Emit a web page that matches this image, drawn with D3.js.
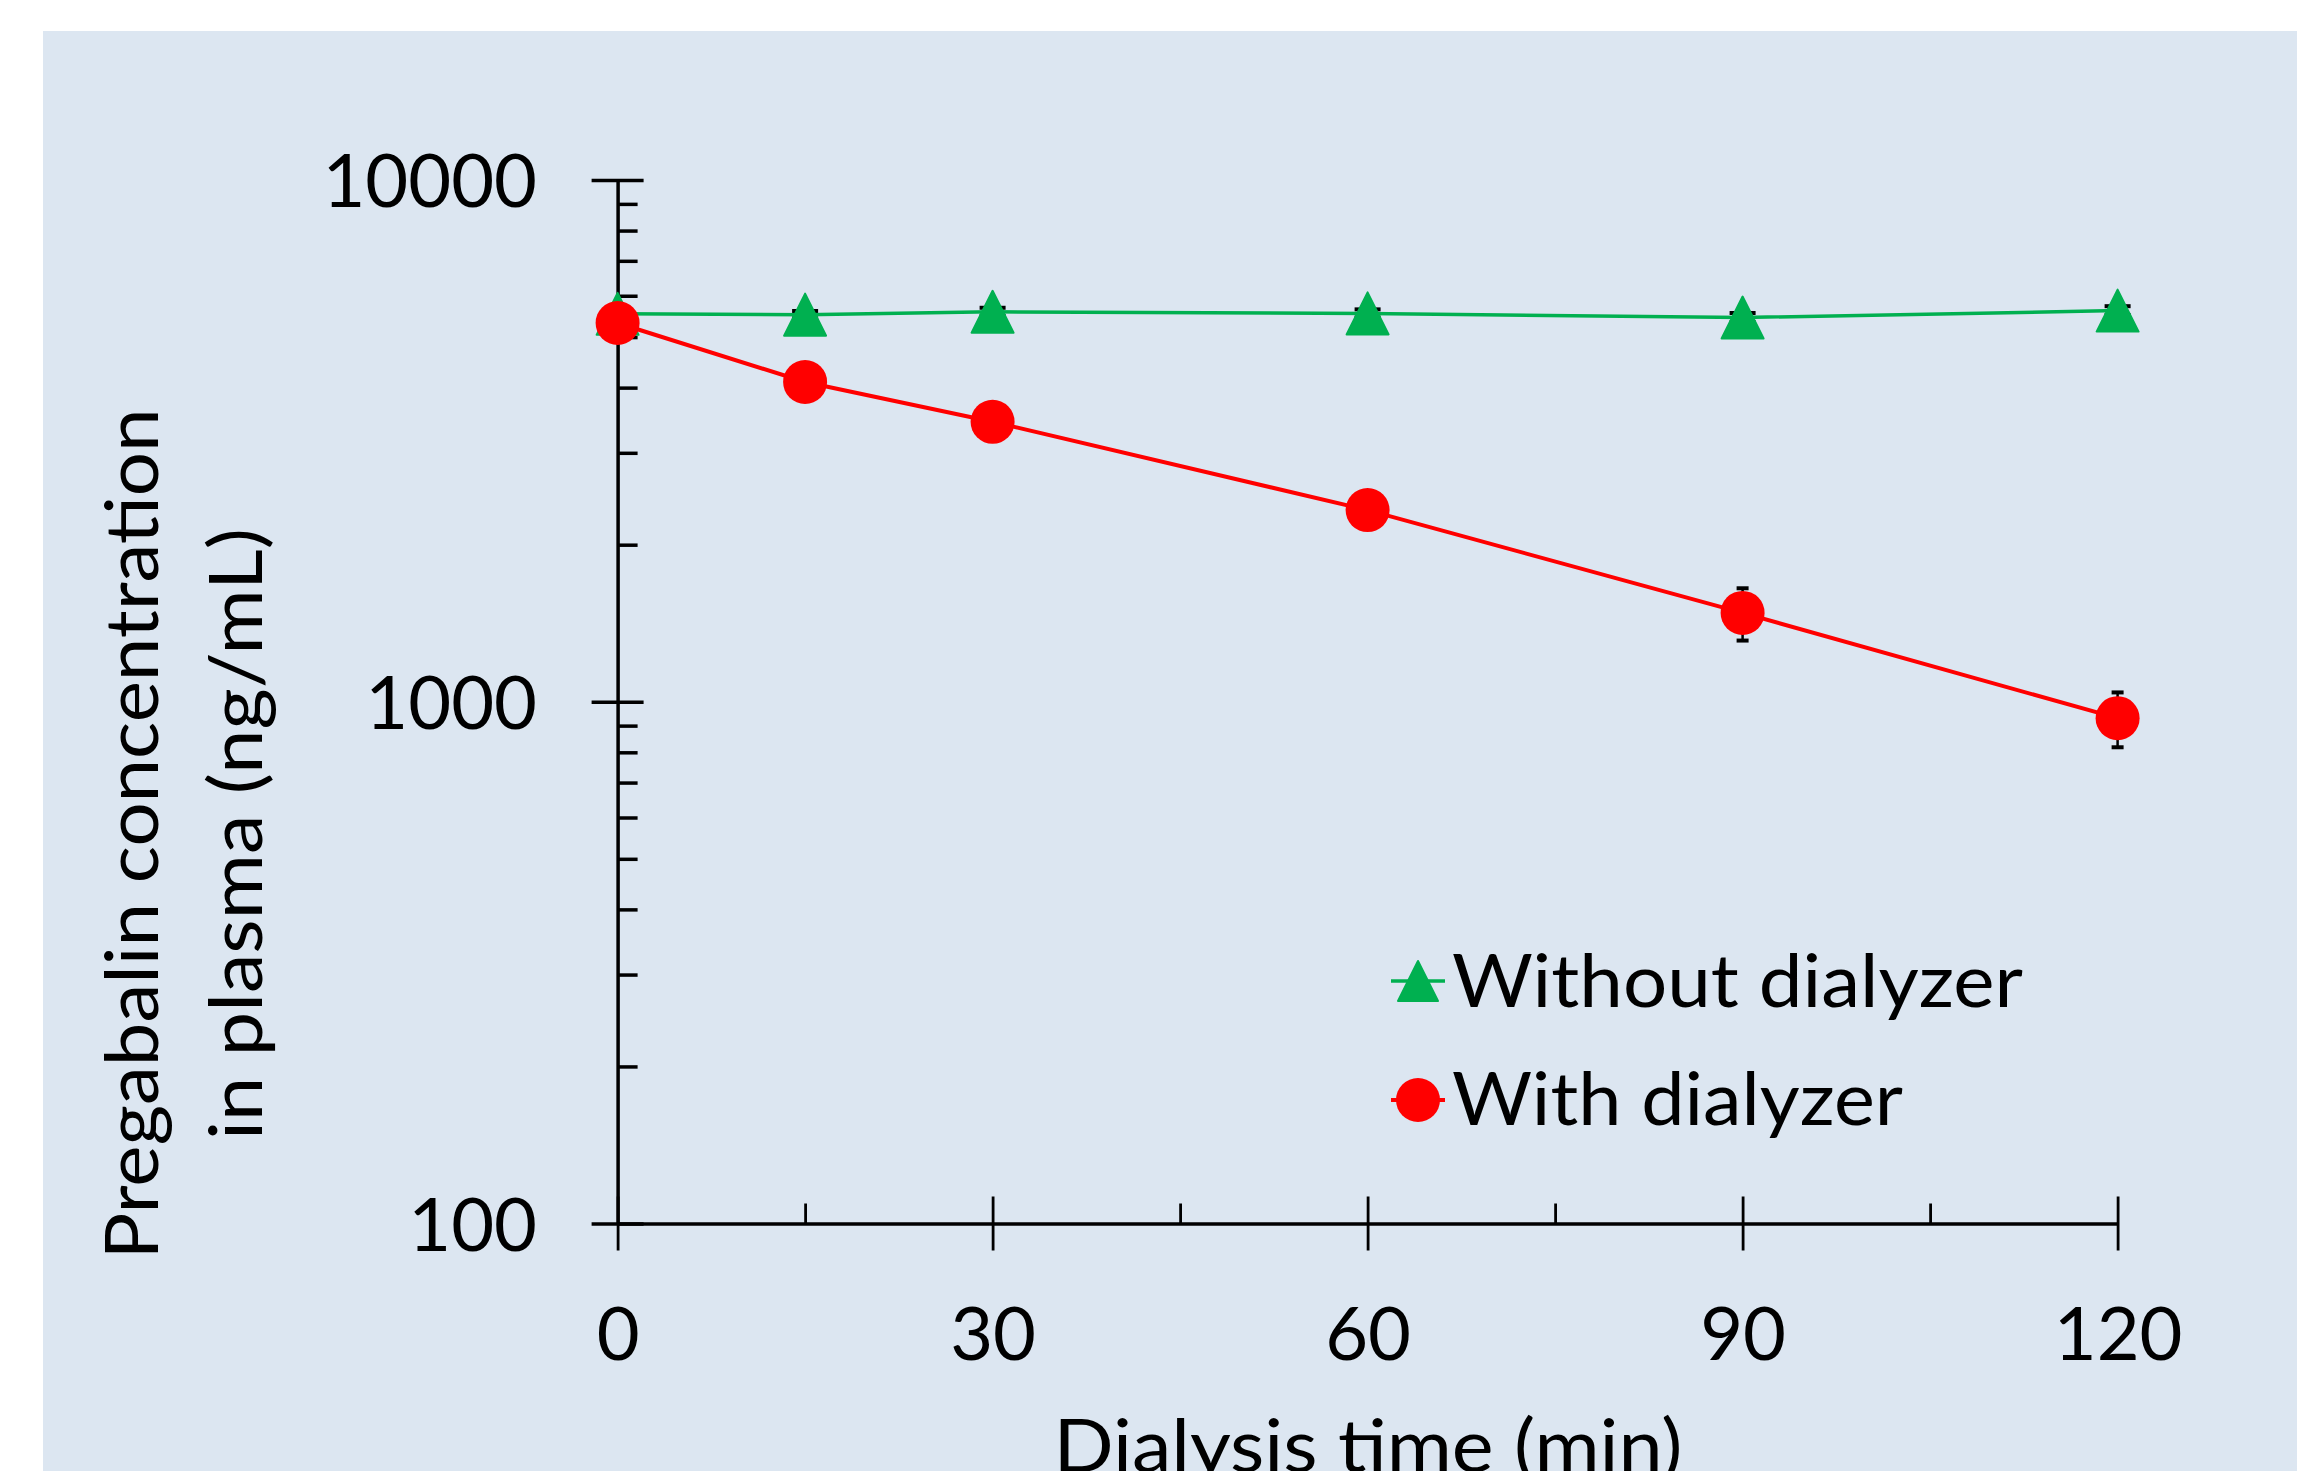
<!DOCTYPE html>
<html>
<head>
<meta charset="utf-8">
<script src="https://cdn.jsdelivr.net/npm/d3@7"></script>
<style>
  body { margin: 0; background: #fff; }
  svg { display: block; font-family: Lato, "Open Sans", sans-serif; }
</style>
</head>
<body>
<div class="chart-area"></div>
<script>
// dialysis time (min)
const times = [0, 15, 30, 60, 90, 120];
// pregabalin in plasma (ng/mL)
const withoutDialyzer = [5540, 5520, 5590, 5550, 5450, 5620];
const withoutSD = [90, 90, 100, 100, 110, 110];
const withDialyzer = [5320, 4100, 3440, 2330, 1480, 930];
const withSD = [150, 120, 100, 80, 170, 112];

const xMajor = [0, 30, 60, 90, 120];
const xMinor = [15, 45, 75, 105];
const yMajor = [100, 1000, 10000];
const yMinor = [200, 300, 400, 500, 600, 700, 800, 900, 2000, 3000, 4000, 5000, 6000, 7000, 8000, 9000];

const legendNames = ["Without dialyzer", "With dialyzer"];

let width = 2297;
let height = 1471;

const svg = d3.select(".chart-area").append("svg")
  .attr("width", width)
  .attr("height", height)
  .attr("viewBox", [0, 0, width, height]);

// light blue panel
svg.append("rect")
  .attr("x", 43).attr("y", 31)
  .attr("width", width - 43).attr("height", height - 31)
  .attr("fill", "#dce6f1");

const x = d3.scaleLinear().domain([0, 120]).range([617.6, 2117.6]);
const y = d3.scaleLog().domain([100, 10000]).range([1223.5, 180]);

const fontSize = 74;

// y axis, major ticks cross the line
const yAxis = svg.append("g")
  .attr("transform", `translate(${x(0)},0)`)
  .call(d3.axisLeft(y).tickValues(yMajor).tickSize(26).tickSizeOuter(0).tickFormat(d3.format("d")));
yAxis.select(".domain").attr("stroke-width", 3.5);
yAxis.selectAll(".tick line").attr("x1", 26).attr("stroke-width", 3.5);
yAxis.selectAll(".tick text")
  .attr("x", 537 - x(0))
  .attr("dy", "0.36em")
  .attr("font-size", fontSize)
  .attr("font-family", "Lato")
  .attr("fill", "#000");

// minor y ticks inside
const yMinorAxis = svg.append("g")
  .attr("transform", `translate(${x(0)},0)`)
  .call(d3.axisRight(y).tickValues(yMinor).tickSize(20).tickFormat(""));
yMinorAxis.select(".domain").remove();
yMinorAxis.selectAll(".tick line").attr("stroke-width", 3.5);

// x axis
const xAxis = svg.append("g")
  .attr("transform", `translate(0,${y(100)})`)
  .call(d3.axisBottom(x).tickValues(xMajor).tickSize(27).tickSizeOuter(0));
xAxis.select(".domain").attr("stroke-width", 3.5);
xAxis.selectAll(".tick line").attr("y1", -27).attr("stroke-width", 2.8);
xAxis.selectAll(".tick text")
  .attr("y", 1360 - y(100))
  .attr("dy", 0)
  .attr("font-size", fontSize)
  .attr("font-family", "Lato")
  .attr("fill", "#000");

const xMinorAxis = svg.append("g")
  .attr("transform", `translate(0,${y(100)})`)
  .call(d3.axisTop(x).tickValues(xMinor).tickSize(20).tickFormat(""));
xMinorAxis.select(".domain").remove();
xMinorAxis.selectAll(".tick line").attr("stroke-width", 2.8);

// axis titles
svg.append("text")
  .attr("x", 1368).attr("y", 1472)
  .attr("text-anchor", "middle")
  .attr("font-size", fontSize)
  .attr("textLength", 629).attr("lengthAdjust", "spacingAndGlyphs")
  .text("Dialysis time (min)");

const yTitle = svg.append("g")
  .attr("transform", "translate(0,834) rotate(-90)")
  .attr("font-size", fontSize)
  .attr("text-anchor", "middle");
yTitle.append("text")
  .attr("x", 0).attr("y", 158)
  .attr("textLength", 851).attr("lengthAdjust", "spacingAndGlyphs")
  .text("Pregabalin concentration");
yTitle.append("text")
  .attr("x", 0).attr("y", 262)
  .attr("textLength", 612).attr("lengthAdjust", "spacingAndGlyphs")
  .text("in plasma (ng/mL)");

// build series
const green = "#00b050";
const red = "#ff0000";
const seriesA = times.map((t, i) => ({t: t, v: withoutDialyzer[i], sd: withoutSD[i]}));
const seriesB = times.map((t, i) => ({t: t, v: withDialyzer[i], sd: withSD[i]}));

const line = d3.line().x(d => x(d.t)).y(d => y(d.v));

function triangle(cx, cy, r) {
  return `M${cx},${cy - r}L${cx + r},${cy + r}L${cx - r},${cy + r}Z`;
}

function errorBars(data, cap) {
  const g = svg.append("g").attr("stroke", "#000").attr("stroke-width", 2.5);
  g.selectAll(".eb")
    .data(data)
    .join("line")
    .attr("x1", d => x(d.t)).attr("x2", d => x(d.t))
    .attr("y1", d => y(d.v + d.sd)).attr("y2", d => y(d.v - d.sd));
  g.selectAll(".capTop")
    .data(data)
    .join("line")
    .attr("class", "capTop")
    .attr("x1", d => x(d.t) - cap / 2).attr("x2", d => x(d.t) + cap / 2)
    .attr("y1", d => y(d.v + d.sd)).attr("y2", d => y(d.v + d.sd))
    .attr("stroke-width", 4);
  g.selectAll(".capBot")
    .data(data)
    .join("line")
    .attr("class", "capBot")
    .attr("x1", d => x(d.t) - cap / 2).attr("x2", d => x(d.t) + cap / 2)
    .attr("y1", d => y(d.v - d.sd)).attr("y2", d => y(d.v - d.sd))
    .attr("stroke-width", 4);
}

// without dialyzer (green triangles)
errorBars(seriesA, 26);
svg.append("path")
  .datum(seriesA)
  .attr("d", line)
  .attr("fill", "none")
  .attr("stroke", green)
  .attr("stroke-width", 3.5);
svg.selectAll(".tri")
  .data(seriesA)
  .join("path")
  .attr("class", "tri")
  .attr("d", d => triangle(x(d.t), y(d.v), 21))
  .attr("fill", green)
  .attr("stroke", green)
  .attr("stroke-width", 2)
  .attr("stroke-linejoin", "round");

// with dialyzer (red circles)
errorBars(seriesB, 12);
svg.append("path")
  .datum(seriesB)
  .attr("d", line)
  .attr("fill", "none")
  .attr("stroke", red)
  .attr("stroke-width", 4);
svg.selectAll(".dot")
  .data(seriesB)
  .join("circle")
  .attr("class", "dot")
  .attr("cx", d => x(d.t))
  .attr("cy", d => y(d.v))
  .attr("r", 22)
  .attr("fill", red);

// legend
const legend = svg.append("g").attr("font-size", fontSize);
legend.append("line")
  .attr("x1", 1391).attr("x2", 1445).attr("y1", 981).attr("y2", 981)
  .attr("stroke", green).attr("stroke-width", 3.5);
legend.append("path")
  .attr("d", triangle(1418, 981, 20))
  .attr("fill", green).attr("stroke", green).attr("stroke-width", 2).attr("stroke-linejoin", "round");
legend.append("text")
  .attr("x", 1452).attr("y", 1007)
  .attr("textLength", 571).attr("lengthAdjust", "spacingAndGlyphs")
  .text(legendNames[0]);

legend.append("line")
  .attr("x1", 1391).attr("x2", 1445).attr("y1", 1100).attr("y2", 1100)
  .attr("stroke", red).attr("stroke-width", 4);
legend.append("circle")
  .attr("cx", 1418).attr("cy", 1100).attr("r", 22)
  .attr("fill", red);
legend.append("text")
  .attr("x", 1452).attr("y", 1125)
  .attr("textLength", 451).attr("lengthAdjust", "spacingAndGlyphs")
  .text(legendNames[1]);
</script>
</body>
</html>
